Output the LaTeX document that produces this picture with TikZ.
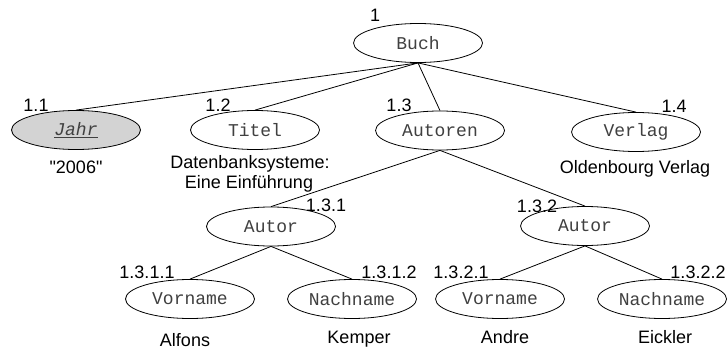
\documentclass[tikz,border=0pt]{standalone}
\usepackage{fontspec}
\setmainfont{Liberation Sans}
\setmonofont{Liberation Mono}
\newfontfamily\plainsans{Liberation Sans}
\usetikzlibrary{shapes.geometric}
\definecolor{jahrfill}{HTML}{D3D3D3}
\definecolor{elemtext}{HTML}{404040}
\tikzset{
  elem/.style={ellipse, draw, line width=0.8pt, minimum width=129pt, minimum height=39pt, inner sep=0pt,
    font=\fontsize{18}{20}\selectfont\ttfamily, text=elemtext},
  keyelem/.style={elem, fill=jahrfill},
  lbl/.style={anchor=base, inner sep=0pt, font=\fontsize{18}{20}\selectfont},
  val/.style={anchor=base, inner sep=0pt, font=\fontsize{18}{20}\selectfont, align=center},
  edge/.style={line width=0.8pt}
}
\begin{document}
\begin{tikzpicture}[x=1pt,y=-1pt]
\useasboundingbox (0,0) rectangle (727,350);
% element nodes
\node[elem] (buch) at (418,43) {Buch};
\node[keyelem] (jahr) at (76,130) {\textit{\underline{Jahr}}};
\node[elem] (titel) at (255,130) {Titel};
\node[elem] (autoren) at (440,130.5) {Autoren};
\node[elem] (verlag) at (636,132) {Verlag};
\node[elem] (autor1) at (271,226.5) {Autor};
\node[elem] (autor2) at (585,226) {Autor};
\node[elem] (vn1) at (190,299) {Vorname};
\node[elem] (nn1) at (352,299) {Nachname};
\node[elem] (vn2) at (500,299) {Vorname};
\node[elem] (nn2) at (662,299) {Nachname};
% connectors
\draw[edge] (buch.south) -- (jahr.north);
\draw[edge] (buch.south) -- (titel.north);
\draw[edge] (buch.south) -- (autoren.north);
\draw[edge] (buch.south) -- (verlag.north);
\draw[edge] (autoren.south) -- (autor1.north);
\draw[edge] (autoren.south) -- (autor2.north);
\draw[edge] (autor1.south) -- (vn1.north);
\draw[edge] (autor1.south) -- (nn1.north);
\draw[edge] (autor2.south) -- (vn2.north);
\draw[edge] (autor2.south) -- (nn2.north);
% position labels
\node[lbl] (l1) at (375,22) {1};
\node[lbl] (l11) at (36,111) {1.1};
\node[lbl] (l12) at (218,111) {1.2};
\node[lbl] (l13) at (399,111) {1.3};
\node[lbl] (l14) at (674,112) {1.4};
\node[lbl] (l131) at (326,211) {1.3.1};
\node[lbl] (l132) at (537,212) {1.3.2};
\node[lbl] (l1311) at (147,278) {1.3.1.1};
\node[lbl] (l1312) at (389,278) {1.3.1.2};
\node[lbl] (l1321) at (461,278) {1.3.2.1};
\node[lbl] (l1322) at (698,278) {1.3.2.2};
% values
\node[val] (v2006) at (76,173) {\plainsans "2006"};
\node[val] (vtitel1) at (250,168) {Datenbanksysteme:};
\node[val] (vtitel2) at (249,188) {Eine Einführung};
\node[val] (vverlag) at (635,173) {Oldenbourg Verlag};
\node[val] (valfons) at (185,346) {Alfons};
\node[val] (vkemper) at (359,343) {Kemper};
\node[val] (vandre) at (505,343) {Andre};
\node[val] (veickler) at (665,343) {Eickler};
\end{tikzpicture}
\end{document}
